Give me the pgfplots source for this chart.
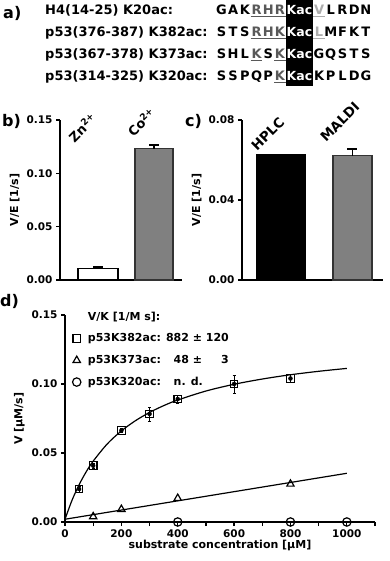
\documentclass[border=0pt]{standalone}
\usepackage{pgfplots}
\pgfplotsset{compat=1.18}
\usepackage{fontspec}
\setmainfont{DejaVu Sans}
\definecolor{bargray}{gray}{0.5}
\definecolor{seqdark}{gray}{0.35}
\definecolor{seqlight}{gray}{0.68}
% one letter of a peptide sequence in a fixed cell
\newcommand\sq[1]{\makebox[11.7pt]{#1}}
\def\seq#1{\seqi#1\relax}
\def\seqi#1{\ifx#1\relax\else\sq{#1}\expandafter\seqi\fi}
\newcommand\uld[1]{\textcolor{seqdark}{\underline{\seq{#1}}}}
\newcommand\ull[1]{\textcolor{seqlight}{\underline{\seq{#1}}}}
\newcommand\tfont{\fontsize{10.5}{12}\selectfont\bfseries}
\newcommand\lfont{\fontsize{11}{13}\selectfont\bfseries}
\newcommand\pfont{\fontsize{16}{18}\selectfont\bfseries}
\pgfplotsset{
  panel/.style={
    scale only axis, anchor=south west, clip=false,
    axis lines=left, axis line style={-, line width=1.6pt},
    tick style={line width=1.3pt, black}, tick align=outside,
    major tick length=4pt, minor tick length=4pt,
    tick label style={font=\tfont},
    label style={font=\lfont},
    /pgf/number format/assume math mode=true,
    /pgf/number format/set thousands separator={},
    scaled ticks=false,
    yticklabel style={/pgf/number format/fixed, /pgf/number format/fixed zerofill,
      /pgf/number format/precision=2},
  },
}
\begin{document}
\begin{tikzpicture}[x=1pt,y=1pt]
\useasboundingbox (0,0) rectangle (390,561);

% ---- a) sequences
\fill[black] (286,475) rectangle (313,561);
\node[anchor=base west, font=\pfont, inner sep=0] at (3,542) {a)};
\begin{scope}[every node/.style={inner sep=0, font=\fontsize{13}{15}\selectfont\bfseries}]
\node[anchor=base west] at (45,546) {H4(14-25) K20ac:};
\node[anchor=base west] at (45,524) {p53(376-387) K382ac:};
\node[anchor=base west] at (45,502.5) {p53(367-378) K373ac:};
\node[anchor=base west] at (45,480) {p53(314-325) K320ac:};
\node[anchor=base east] at (286,546) {\seq{GAK}\uld{RHR}};
\node[anchor=base east] at (286,524) {\seq{STS}\uld{RHK}};
\node[anchor=base east] at (286,502.5) {\seq{SHL}\uld{K}\seq{S}\uld{K}};
\node[anchor=base east] at (286,480) {\seq{SSPQP}\uld{K}};
\foreach \yy in {546,524,502.5,480}
  \node[anchor=base, text=white, font=\fontsize{12.5}{15}\selectfont\bfseries] at (299.5,\yy) {Kac};
\node[anchor=base west] at (313,546) {\ull{V}\seq{LRDN}};
\node[anchor=base west] at (313,524) {\ull{L}\seq{MFKT}};
\node[anchor=base west] at (313,502.5) {\seq{GQSTS}};
\node[anchor=base west] at (313,480) {\seq{KPLDG}};
\end{scope}

% ---- b) metal ions
\node[anchor=base west, font=\pfont, inner sep=0] at (2,434) {b)};
\begin{axis}[panel, at={(60pt,281pt)}, width=122pt, height=160pt,
  xmin=-0.679, xmax=1.5, ymin=0, ymax=0.15,
  xtick=\empty, ytick={0,0.05,0.10,0.15},
  ylabel={V/E [1/s]}]
\addplot[ybar, bar shift=0pt, bar width=40pt, fill=white, draw=black, line width=1.3pt,
  error bars/.cd, y dir=plus, y explicit,
  error bar style={line width=1.3pt, black},
  error mark options={rotate=90, mark size=5pt, line width=1.3pt, black}]
  coordinates {(0,0.011) +- (0,0.0013)};
\addplot[ybar, bar shift=0pt, bar width=38pt, fill=bargray, draw=black!80, line width=1.3pt,
  error bars/.cd, y dir=plus, y explicit,
  error bar style={line width=1.3pt, black},
  error mark options={rotate=90, mark size=5pt, line width=1.3pt, black}]
  coordinates {(1,0.123) +- (0,0.0035)};
\node[rotate=45, anchor=south west, font=\fontsize{13}{15}\selectfont\bfseries, inner sep=0] at (axis cs:-0.42,0.128) {Zn\textsuperscript{2+}};
\node[rotate=45, anchor=south west, font=\fontsize{13}{15}\selectfont\bfseries, inner sep=0] at (axis cs:0.64,0.133) {Co\textsuperscript{2+}};
\end{axis}

% ---- c) HPLC vs MALDI
\node[anchor=base west, font=\pfont, inner sep=0] at (185,434) {c)};
\begin{axis}[panel, at={(242pt,281pt)}, width=141pt, height=160pt,
  xmin=-0.545, xmax=1.427, ymin=0, ymax=0.08,
  xtick=\empty, ytick={0,0.04,0.08},
  ylabel={V/E [1/s]}]
\addplot[ybar, bar shift=0pt, bar width=48pt, fill=black, draw=black, line width=1.3pt]
  coordinates {(0,0.0628)};
\addplot[ybar, bar shift=0pt, bar width=39pt, fill=bargray, draw=black!80, line width=1.3pt,
  error bars/.cd, y dir=plus, y explicit,
  error bar style={line width=1.3pt, black},
  error mark options={rotate=90, mark size=5pt, line width=1.3pt, black}]
  coordinates {(1,0.0622) +- (0,0.0033)};
\node[rotate=45, anchor=south west, font=\fontsize{13.5}{15}\selectfont\bfseries, inner sep=0] at (axis cs:-0.33,0.064) {HPLC};
\node[rotate=45, anchor=south west, font=\fontsize{13.5}{15}\selectfont\bfseries, inner sep=0] at (axis cs:0.63,0.0685) {MALDI};
\end{axis}

% ---- d) kinetics
\node[anchor=base west, font=\pfont, inner sep=0] at (0,254) {d)};
\begin{axis}[panel, at={(65pt,39pt)}, width=310pt, height=207pt,
  xmin=0, xmax=1100, ymin=0, ymax=0.15,
  xtick={0,200,...,1000}, minor xtick={100,300,...,1100},
  ytick={0,0.05,0.10,0.15},
  xticklabel style={/pgf/number format/fixed, /pgf/number format/precision=0},
  xlabel={substrate concentration [µM]}, ylabel={V [µM/s]},
  xlabel style={yshift=4pt},
  legend style={draw=none, fill=none, at={(0.0,1.035)}, anchor=north west,
    font=\fontsize{11}{12}\selectfont\bfseries, row sep=8pt, column sep=5pt},
  legend cell align=left]
\addlegendimage{empty legend}
\addlegendentry{V/K [1/M s]:}
% Michaelis-Menten fit
\addplot[smooth, line width=1.2pt, black, forget plot] coordinates {
  (0,0.002) (25,0.0158) (50,0.0270) (75,0.0363) (100,0.0441) (150,0.0566)
  (200,0.0660) (250,0.0734) (300,0.0794) (350,0.0843) (400,0.0884)
  (500,0.0949) (600,0.0998) (700,0.1036) (800,0.1067) (900,0.1092) (1000,0.1113)};
% linear fit
\addplot[line width=1.2pt, black, forget plot] coordinates {(0,0.002) (1000,0.0353)};
\addplot[only marks, mark=square, mark size=3.8pt, mark options={fill=white, line width=1.2pt, draw=black}]
  coordinates {(50,0.0239) (100,0.0408) (200,0.0662) (300,0.0783) (400,0.0891) (600,0.1000) (800,0.1040)};
\addlegendentry{p53K382ac: 882 ± 120}
\addplot[only marks, mark=triangle, mark size=4.2pt, mark options={fill=white, line width=1.2pt, draw=black}]
  coordinates {(100,0.0039) (200,0.0092) (400,0.0172) (800,0.0275)};
\addlegendentry{p53K373ac: \phantom{8}48 ± \phantom{12}3}
\addplot[only marks, mark=o, mark size=4.2pt, mark options={fill=white, line width=1.2pt, draw=black}]
  coordinates {(400,0) (800,0) (1000,0)};
\addlegendentry{p53K320ac: \phantom{8}n. d.}
% error bars on top of the white squares
\addplot[only marks, mark=none, forget plot,
  error bars/.cd, y dir=both, y explicit,
  error bar style={line width=0.5pt, black},
  error mark options={rotate=90, mark size=1.5pt, line width=0.5pt, black}]
  coordinates {(50,0.0239) +- (0,0.002) (100,0.0408) +- (0,0.002) (200,0.0662) +- (0,0.0015)
    (300,0.0783) +- (0,0.005) (400,0.0891) +- (0,0.003) (600,0.1000) +- (0,0.0065) (800,0.1040) +- (0,0.003)};
\end{axis}
\end{tikzpicture}
\end{document}
